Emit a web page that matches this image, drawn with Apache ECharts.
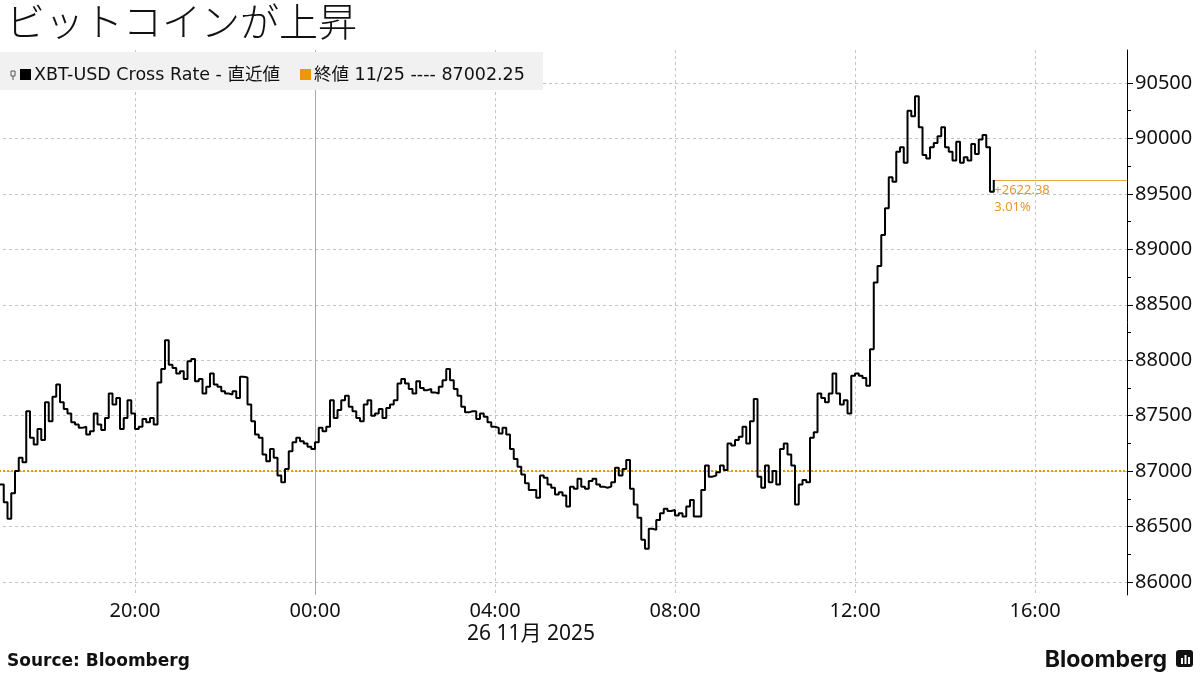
<!DOCTYPE html>
<html><head><meta charset="utf-8">
<script src="https://cdn.jsdelivr.net/npm/echarts@6/dist/echarts.min.js"></script>
<style>html,body{margin:0;padding:0;background:#fff}#c{width:1200px;height:675px}</style>
</head><body><div id="c"></div>
<script>
// ---- data ----
const titleText = 'ビットコインが上昇';
const seriesName = 'XBT-USD Cross Rate - 直近値';
const prevCloseName = '終値 11/25';
const prevClose = 87002.25;
const startHour = 17;          // 11/25 17:00 (hours counted from 11/25 00:00)
const stepMinutes = 5;
const prices = [
  86880, 86720, 86570, 86800, 87000, 87120, 87080, 87540, 87300, 87240,
  87380, 87280, 87620, 87450, 87670, 87780, 87620, 87560, 87520, 87440,
  87420, 87390, 87400, 87330, 87360, 87520, 87420, 87370, 87480, 87700,
  87600, 87660, 87380, 87480, 87640, 87520, 87380, 87400, 87470, 87440,
  87480, 87420, 87800, 87920, 88180, 87960, 87930, 87880, 87900, 87830,
  87990, 88010, 87810, 87830, 87700, 87760, 87880, 87780, 87760, 87720,
  87700, 87690, 87720, 87660, 87850, 87845, 87600, 87450, 87330, 87300,
  87150, 87090, 87200, 87120, 86960, 86900, 87020, 87180, 87260, 87300,
  87270, 87250, 87220, 87200, 87260, 87390, 87360, 87400, 87640, 87480,
  87550, 87640, 87680, 87580, 87540, 87480, 87450, 87600, 87640, 87500,
  87520, 87560, 87480, 87570, 87600, 87640, 87790, 87830, 87790, 87740,
  87700, 87810, 87750, 87730, 87740, 87710, 87700, 87760, 87820, 87920,
  87820, 87740, 87680, 87580, 87530, 87540, 87540, 87470, 87520, 87490,
  87440, 87400, 87390, 87340, 87390, 87330, 87200, 87110, 87040, 86970,
  86890, 86830, 86830, 86760, 86960, 86940, 86880, 86850, 86790, 86810,
  86780, 86680, 86860, 86840, 86930, 86860, 86840, 86910, 86930, 86880,
  86860, 86850, 86860, 86900, 87030, 86960, 87020, 87100, 86840, 86700,
  86580, 86380, 86300, 86480, 86470, 86560, 86620, 86660, 86640, 86650,
  86600, 86620, 86590, 86680, 86740, 86590, 86590, 86830, 87050, 86950,
  86960, 86990, 87050, 87010, 87250, 87230, 87280, 87310, 87400, 87250,
  87450, 87650, 86950, 86850, 87050, 86900, 87000, 86880, 87200, 87250,
  87150, 87050, 86700, 86880, 86920, 86900, 87300, 87350, 87700, 87660,
  87620, 87700, 87880, 87700, 87600, 87640, 87520, 87860, 87880, 87860,
  87840, 87770, 88100, 88700, 88850, 89130, 89370, 89650, 89610, 89880,
  89920, 89780, 90250, 90200, 90380, 90100, 89850, 89820, 89920, 89960,
  90020, 90100, 89920, 89880, 89800, 89970, 89780, 89830, 89800, 89950,
  89860, 89990, 90030, 89920, 89520, 89624.63
];
const yMin = 86000, yMax = 90500, yInterval = 500;
const xMin = 16, xMax = 42.044, xInterval = 4;
const dateLabel = '26 11月 2025';
const sourceText = 'Source: Bloomberg';

// ---- build ----
const lineData = prices.map((v, i) => [startHour + i * stepMinutes / 60, v]);
const last = lineData[lineData.length - 1];
const lastHour = last[0], lastPrice = last[1];
const change = lastPrice - prevClose;
const pct = change / prevClose * 100;
const ORANGE = '#f0960e';
const FONT = '"Noto Sans", "Noto Sans CJK JP", sans-serif';
const LFONT = '"DejaVu Sans", "Noto Sans CJK JP", sans-serif';

const chart = echarts.init(document.getElementById('c'), null, {renderer: 'canvas'});
chart.setOption({
  animation: false,
  backgroundColor: '#fff',
  textStyle: {fontFamily: FONT},
  grid: [
    {left: -45, right: 73, top: 83, bottom: 93, outerBoundsMode: 'none', containLabel: false},
    {left: -45, right: 73, top: 50, bottom: 80, outerBoundsMode: 'none', containLabel: false}
  ],
  xAxis: [
    {gridIndex: 0, type: 'value', min: xMin, max: xMax, interval: xInterval, show: false},
    {gridIndex: 1, type: 'value', min: xMin, max: xMax, interval: xInterval,
     axisLine: {show: false}, axisTick: {show: false},
     splitLine: {show: true, lineStyle: {type: [3, 3], color: '#c4c4c4', width: 1}},
     axisLabel: {color: '#111', fontSize: 20, margin: 6, fontFamily: FONT, showMaxLabel: false,
       formatter: v => String(v % 24).padStart(2, '0') + ':00'}}
  ],
  yAxis: [
    {gridIndex: 0, type: 'value', position: 'right', min: yMin, max: yMax, interval: yInterval,
     axisLine: {show: false},
     axisTick: {show: true, length: 6, lineStyle: {color: '#000'}},
     minorTick: {show: true, splitNumber: 2, length: 4, lineStyle: {color: '#000'}},
     axisLabel: {color: '#111', fontSize: 20, margin: 8, fontFamily: FONT, formatter: v => String(v)},
     splitLine: {show: true, lineStyle: {type: [3, 3], color: '#c4c4c4', width: 1}}},
    {gridIndex: 1, type: 'value', position: 'right', min: 0, max: 1,
     axisLine: {show: true, lineStyle: {color: '#000', width: 1}},
     axisTick: {show: false}, axisLabel: {show: false}, splitLine: {show: false}}
  ],
  series: [
    {type: 'line', xAxisIndex: 1, yAxisIndex: 1, data: [], silent: true,
     markLine: {silent: true, symbol: 'none', label: {show: false},
       lineStyle: {type: 'solid', color: '#aaaaaa', width: 1},
       data: [{xAxis: 24}]}},
    {name: seriesName, type: 'line', xAxisIndex: 0, yAxisIndex: 0, data: lineData,
     step: 'end', showSymbol: false, symbol: 'none', z: 5,
     lineStyle: {color: '#000', width: 2}, silent: true,
     markLine: {silent: true, symbol: 'none', label: {show: false}, animation: false,
       data: [
         [{coord: [xMin, prevClose], lineStyle: {type: 'dotted', color: ORANGE, width: 2}},
          {coord: [xMax, prevClose]}],
         [{coord: [lastHour, lastPrice], lineStyle: {type: 'solid', color: '#eaa443', width: 1}},
          {coord: [xMax, lastPrice]}]
       ]},
     markPoint: {silent: true, symbol: 'circle', symbolSize: 1, itemStyle: {color: 'rgba(0,0,0,0)'},
       label: {show: true, position: 'right', distance: 0, offset: [0, 19], color: '#e8962e',
         fontSize: 13, lineHeight: 17, align: 'left', fontFamily: FONT,
         formatter: () => '+' + change.toFixed(2) + '\n' + pct.toFixed(2) + '%'},
       data: [{coord: [lastHour, lastPrice]}]}}
  ],
  graphic: [
    {type: 'text', left: 6, top: 2, style: {text: titleText, fontSize: 39, fill: '#111', fontFamily: '"Noto Sans CJK JP", sans-serif', fontWeight: 300}},
    {type: 'rect', shape: {x: 0, y: 52, width: 543, height: 38}, style: {fill: '#f1f1f1'}, z: 10},
    {type: 'rect', shape: {x: 11, y: 71, width: 4, height: 5}, style: {fill: 'none', stroke: '#555', lineWidth: 1}, z: 11},
    {type: 'line', shape: {x1: 13, y1: 76, x2: 13, y2: 80}, style: {stroke: '#555', lineWidth: 1}, z: 11},
    {type: 'rect', shape: {x: 20, y: 69, width: 11, height: 11}, style: {fill: '#000'}, z: 11},
    {type: 'text', x: 34, y: 75, style: {text: seriesName, fontSize: 17.5, fill: '#111', fontFamily: LFONT, verticalAlign: 'middle'}, z: 11},
    {type: 'rect', shape: {x: 300, y: 69, width: 11, height: 11}, style: {fill: ORANGE}, z: 11},
    {type: 'text', x: 314, y: 75, style: {text: prevCloseName + ' ---- ' + prevClose.toFixed(2), fontSize: 17.5, fill: '#111', fontFamily: LFONT, verticalAlign: 'middle'}, z: 11},
    {type: 'text', x: 467, y: 634, style: {text: dateLabel, fontSize: 21, fill: '#111', fontFamily: FONT, verticalAlign: 'middle'}},
    {type: 'text', x: 7, y: 662, style: {text: sourceText, fontSize: 17, fontWeight: 'bold', fill: '#111', fontFamily: '"DejaVu Sans", sans-serif', verticalAlign: 'middle'}},
    {type: 'text', x: 1167, y: 660, style: {text: 'Bloomberg', fontSize: 23, fontWeight: 'bold', fill: '#111', fontFamily: '"Inter", "Noto Sans", sans-serif', align: 'right', verticalAlign: 'middle'}},
    {type: 'rect', shape: {x: 1176, y: 650, width: 17, height: 17, r: 3}, style: {fill: '#111'}},
    {type: 'rect', shape: {x: 1181, y: 658, width: 2, height: 6}, style: {fill: '#fff'}},
    {type: 'rect', shape: {x: 1184.5, y: 655, width: 2, height: 9}, style: {fill: '#fff'}},
    {type: 'rect', shape: {x: 1188, y: 657, width: 2, height: 7}, style: {fill: '#fff'}}
  ]
});
</script>
</body></html>
